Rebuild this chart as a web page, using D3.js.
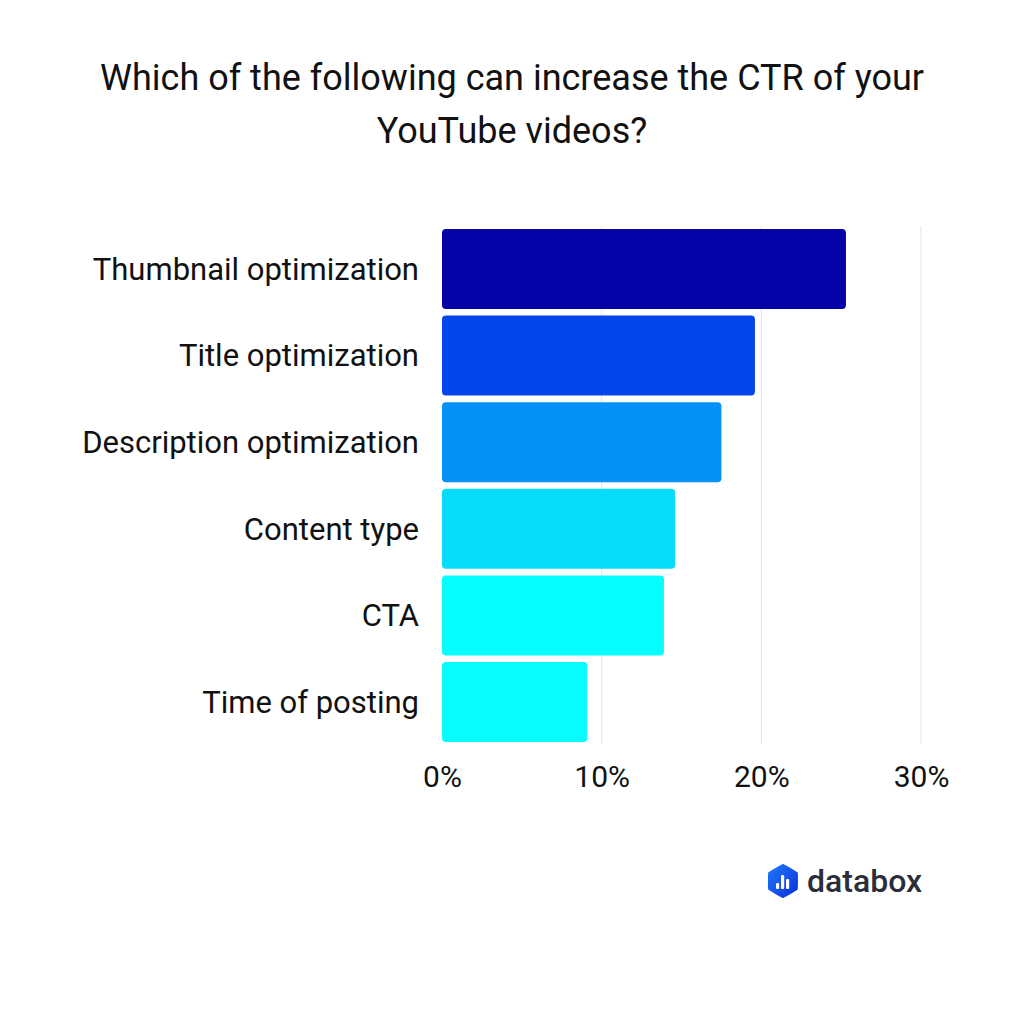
<!DOCTYPE html>
<html>
<head>
<meta charset="utf-8">
<script src="https://cdn.jsdelivr.net/npm/d3@7"></script>
<style>
  body { margin: 0; background: #fff; }
  text { font-family: Roboto, "Noto Sans", sans-serif; }
</style>
</head>
<body>
<script>
// data
var categories = ["Thumbnail optimization", "Title optimization", "Description optimization",
                  "Content type", "CTA", "Time of posting"];
var values = [25.3, 19.6, 17.5, 14.6, 13.9, 9.1];
var barColors = ["#0303a8", "#0546ec", "#0591f8", "#05dcfb", "#05fefe", "#07fdfd"];
var ticks = [0, 10, 20, 30];
var titleLines = ["Which of the following can increase the CTR of your", "YouTube videos?"];

var width = 1024, height = 1024;
var svg = d3.select("body").append("svg")
            .attr("width", width)
            .attr("height", height);

svg.append("rect").attr("width", width).attr("height", height).attr("fill", "#fff");

// title
svg.selectAll(".title")
   .data(titleLines)
   .enter()
   .append("text")
   .attr("class", "title")
   .attr("x", 512)
   .attr("y", function(d, i) { return 90 + i * 53; })
   .attr("text-anchor", "middle")
   .attr("font-size", 36)
   .attr("fill", "#111")
   .text(function(d) { return d; });

var x = d3.scaleLinear().domain([0, 30]).range([442, 921]);
var y = d3.scaleBand().domain(categories).range([229, 742]).paddingInner(0.076).paddingOuter(0);

// grid
svg.selectAll(".grid")
   .data(ticks.slice(1))
   .enter()
   .append("line")
   .attr("x1", function(d) { return x(d); })
   .attr("x2", function(d) { return x(d); })
   .attr("y1", 226)
   .attr("y2", 744)
   .attr("stroke", "#e4e4e4")
   .attr("stroke-width", 1);

// bars
svg.selectAll(".bar")
   .data(values)
   .enter()
   .append("rect")
   .attr("x", x(0))
   .attr("y", function(d, i) { return y(categories[i]); })
   .attr("width", function(d) { return x(d) - x(0); })
   .attr("height", y.bandwidth())
   .attr("rx", 4)
   .attr("fill", function(d, i) { return barColors[i]; });

// category labels
svg.selectAll(".label")
   .data(categories)
   .enter()
   .append("text")
   .attr("x", 419)
   .attr("y", function(d) { return y(d) + y.bandwidth() / 2; })
   .attr("dy", "0.35em")
   .attr("text-anchor", "end")
   .attr("font-size", 31)
   .attr("fill", "#111")
   .text(function(d) { return d; });

// x axis
var xAxis = d3.axisBottom(x).tickValues(ticks).tickSize(0).tickPadding(0)
              .tickFormat(function(d) { return d + "%"; });
var ax = svg.append("g").attr("transform", "translate(0,766)").call(xAxis);
ax.select(".domain").remove();
ax.selectAll("text")
  .attr("font-size", 30)
  .attr("fill", "#111")
  .attr("font-family", "Roboto, sans-serif");

// databox logo
var logo = svg.append("g").attr("transform", "translate(783,881)");
var grad = svg.append("defs").append("linearGradient")
              .attr("id", "lg").attr("x1", "0").attr("y1", "0").attr("x2", "1").attr("y2", "1");
grad.append("stop").attr("offset", "0").attr("stop-color", "#1f7bff");
grad.append("stop").attr("offset", "1").attr("stop-color", "#0a2fd6");
var hex = d3.range(6).map(function(i) {
  var a = Math.PI / 3 * i - Math.PI / 2;
  return [17 * Math.cos(a), 17 * Math.sin(a)];
});
logo.append("path")
    .attr("d", d3.line().curve(d3.curveCardinalClosed.tension(0.85))(hex))
    .attr("fill", "url(#lg)");
[[-7, 2, 6], [-2, -6, 14], [3, -2, 10]].forEach(function(b) {
  logo.append("rect").attr("x", b[0]).attr("y", b[1]).attr("width", 3.2).attr("height", b[2])
      .attr("rx", 1).attr("fill", "#fff");
});
svg.append("text")
   .attr("x", 807)
   .attr("y", 892)
   .attr("font-size", 32)
   .attr("font-weight", 500)
   .attr("fill", "#2a2e3b")
   .text("databox");
</script>
</body>
</html>
